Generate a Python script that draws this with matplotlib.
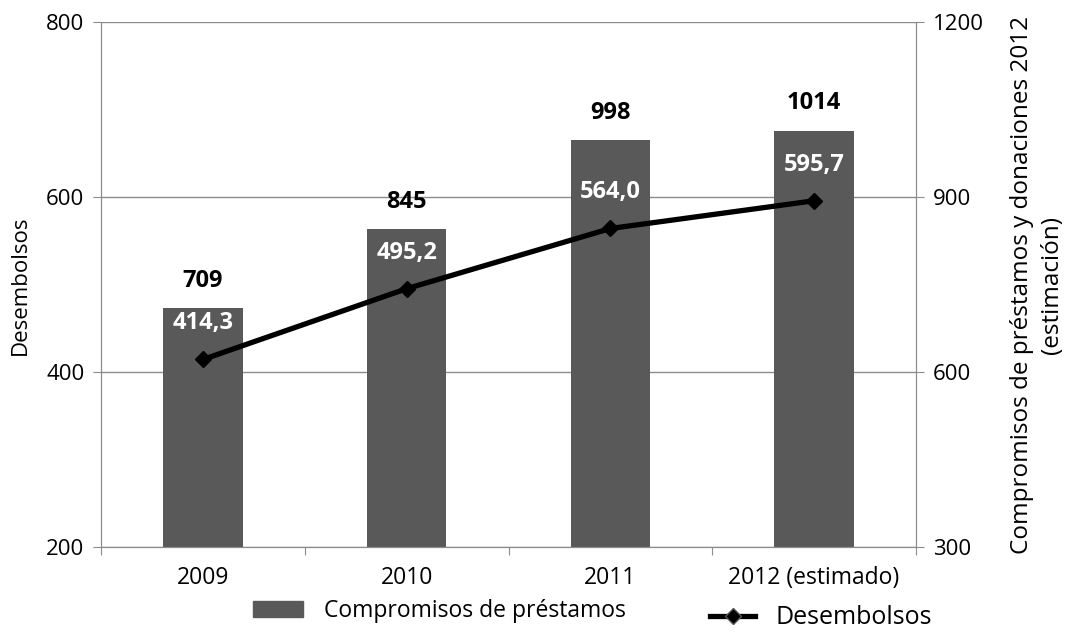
import matplotlib
matplotlib.use("Agg")
import matplotlib.pyplot as plt
from matplotlib.lines import Line2D
import matplotlib.patches as mpatches

plt.rcParams['font.family'] = ['Open Sans', 'DejaVu Sans']

# data
years = ["2009", "2010", "2011", "2012 (estimado)"]
compromisos = [709, 845, 998, 1014]
desembolsos = [414.3, 495.2, 564.0, 595.7]
desembolsos_txt = ["414,3", "495,2", "564,0", "595,7"]

bar_color = "#595959"
gray = "#8c8c8c"

fig = plt.figure(figsize=(10.66, 6.35), dpi=100)
ax = fig.add_axes([101 / 1066, 1 - 547 / 635, 815 / 1066, 525 / 635])
ax2 = ax.twinx()

# bars on right axis, drawn underneath
x = list(range(len(years)))
ax2.bar(x, compromisos, width=0.39, color=bar_color, zorder=2)
ax2.set_ylim(300, 1200)
ax2.set_yticks([300, 600, 900, 1200])
ax2.yaxis.grid(True, color=gray, linewidth=1, zorder=0)
ax2.set_axisbelow(True)
for xi, v in zip(x, compromisos):
    ax2.annotate(str(v), (xi, v), xytext=(0, 19.5), textcoords="offset points",
                 ha="center", va="center", fontsize=17, fontweight="bold")

# line on left axis, on top
ax.set_zorder(ax2.get_zorder() + 1)
ax.patch.set_visible(False)
ax.plot(x, desembolsos, color="black", linewidth=3.8, marker="D",
        markersize=8, zorder=5)
for xi, v, t in zip(x, desembolsos, desembolsos_txt):
    ax.annotate(t, (xi, v), xytext=(0, 26), textcoords="offset points",
                ha="center", va="center", fontsize=17, fontweight="bold",
                color="white")
ax.set_ylim(200, 800)
ax.set_yticks([200, 400, 600, 800])

ax.set_xlim(-0.5, 3.5)
ax.set_xticks([-0.5, 0.5, 1.5, 2.5, 3.5])
ax.set_xticklabels([])
ax.set_xticks(x, minor=True)
ax.set_xticklabels(years, minor=True, fontsize=16.5)
ax.tick_params(axis="x", which="minor", length=0, pad=14)
ax.tick_params(axis="x", which="major", length=6, color=gray, direction="out")

for a in (ax, ax2):
    for s in a.spines.values():
        s.set_color(gray)
    a.tick_params(axis="y", labelsize=16, length=6, color=gray, direction="out",
                  pad=6)
ax.spines["top"].set_visible(False)
ax2.spines["top"].set_visible(False)

fig.text(20 / 1066, 1 - 285 / 635, "Desembolsos", rotation=90, fontsize=16,
         ha="center", va="center")
fig.text(1037 / 1066, 1 - 285 / 635,
         "Compromisos de préstamos y donaciones 2012\n(estimación)",
         rotation=90, fontsize=17.5, ha="center", va="center",
         multialignment="center", linespacing=1.3)

fig.legend(handles=[mpatches.Patch(color=bar_color, label="Compromisos de préstamos")],
           loc="center left", bbox_to_anchor=(253 / 1066, 1 - 611 / 635),
           frameon=False, fontsize=16.5, handlelength=2.2, handleheight=0.65,
           handletextpad=0.9, borderpad=0, borderaxespad=0)
fig.legend(handles=[Line2D([0], [0], color="black", linewidth=3.8, marker="D",
                           markersize=8, markeredgecolor="#555555",
                           label="Desembolsos")],
           loc="center left", bbox_to_anchor=(710 / 1066, 1 - 618 / 635),
           frameon=False, fontsize=18, handlelength=1.8, handletextpad=0.8,
           borderpad=0, borderaxespad=0)

fig.savefig("out.png", dpi=100)
